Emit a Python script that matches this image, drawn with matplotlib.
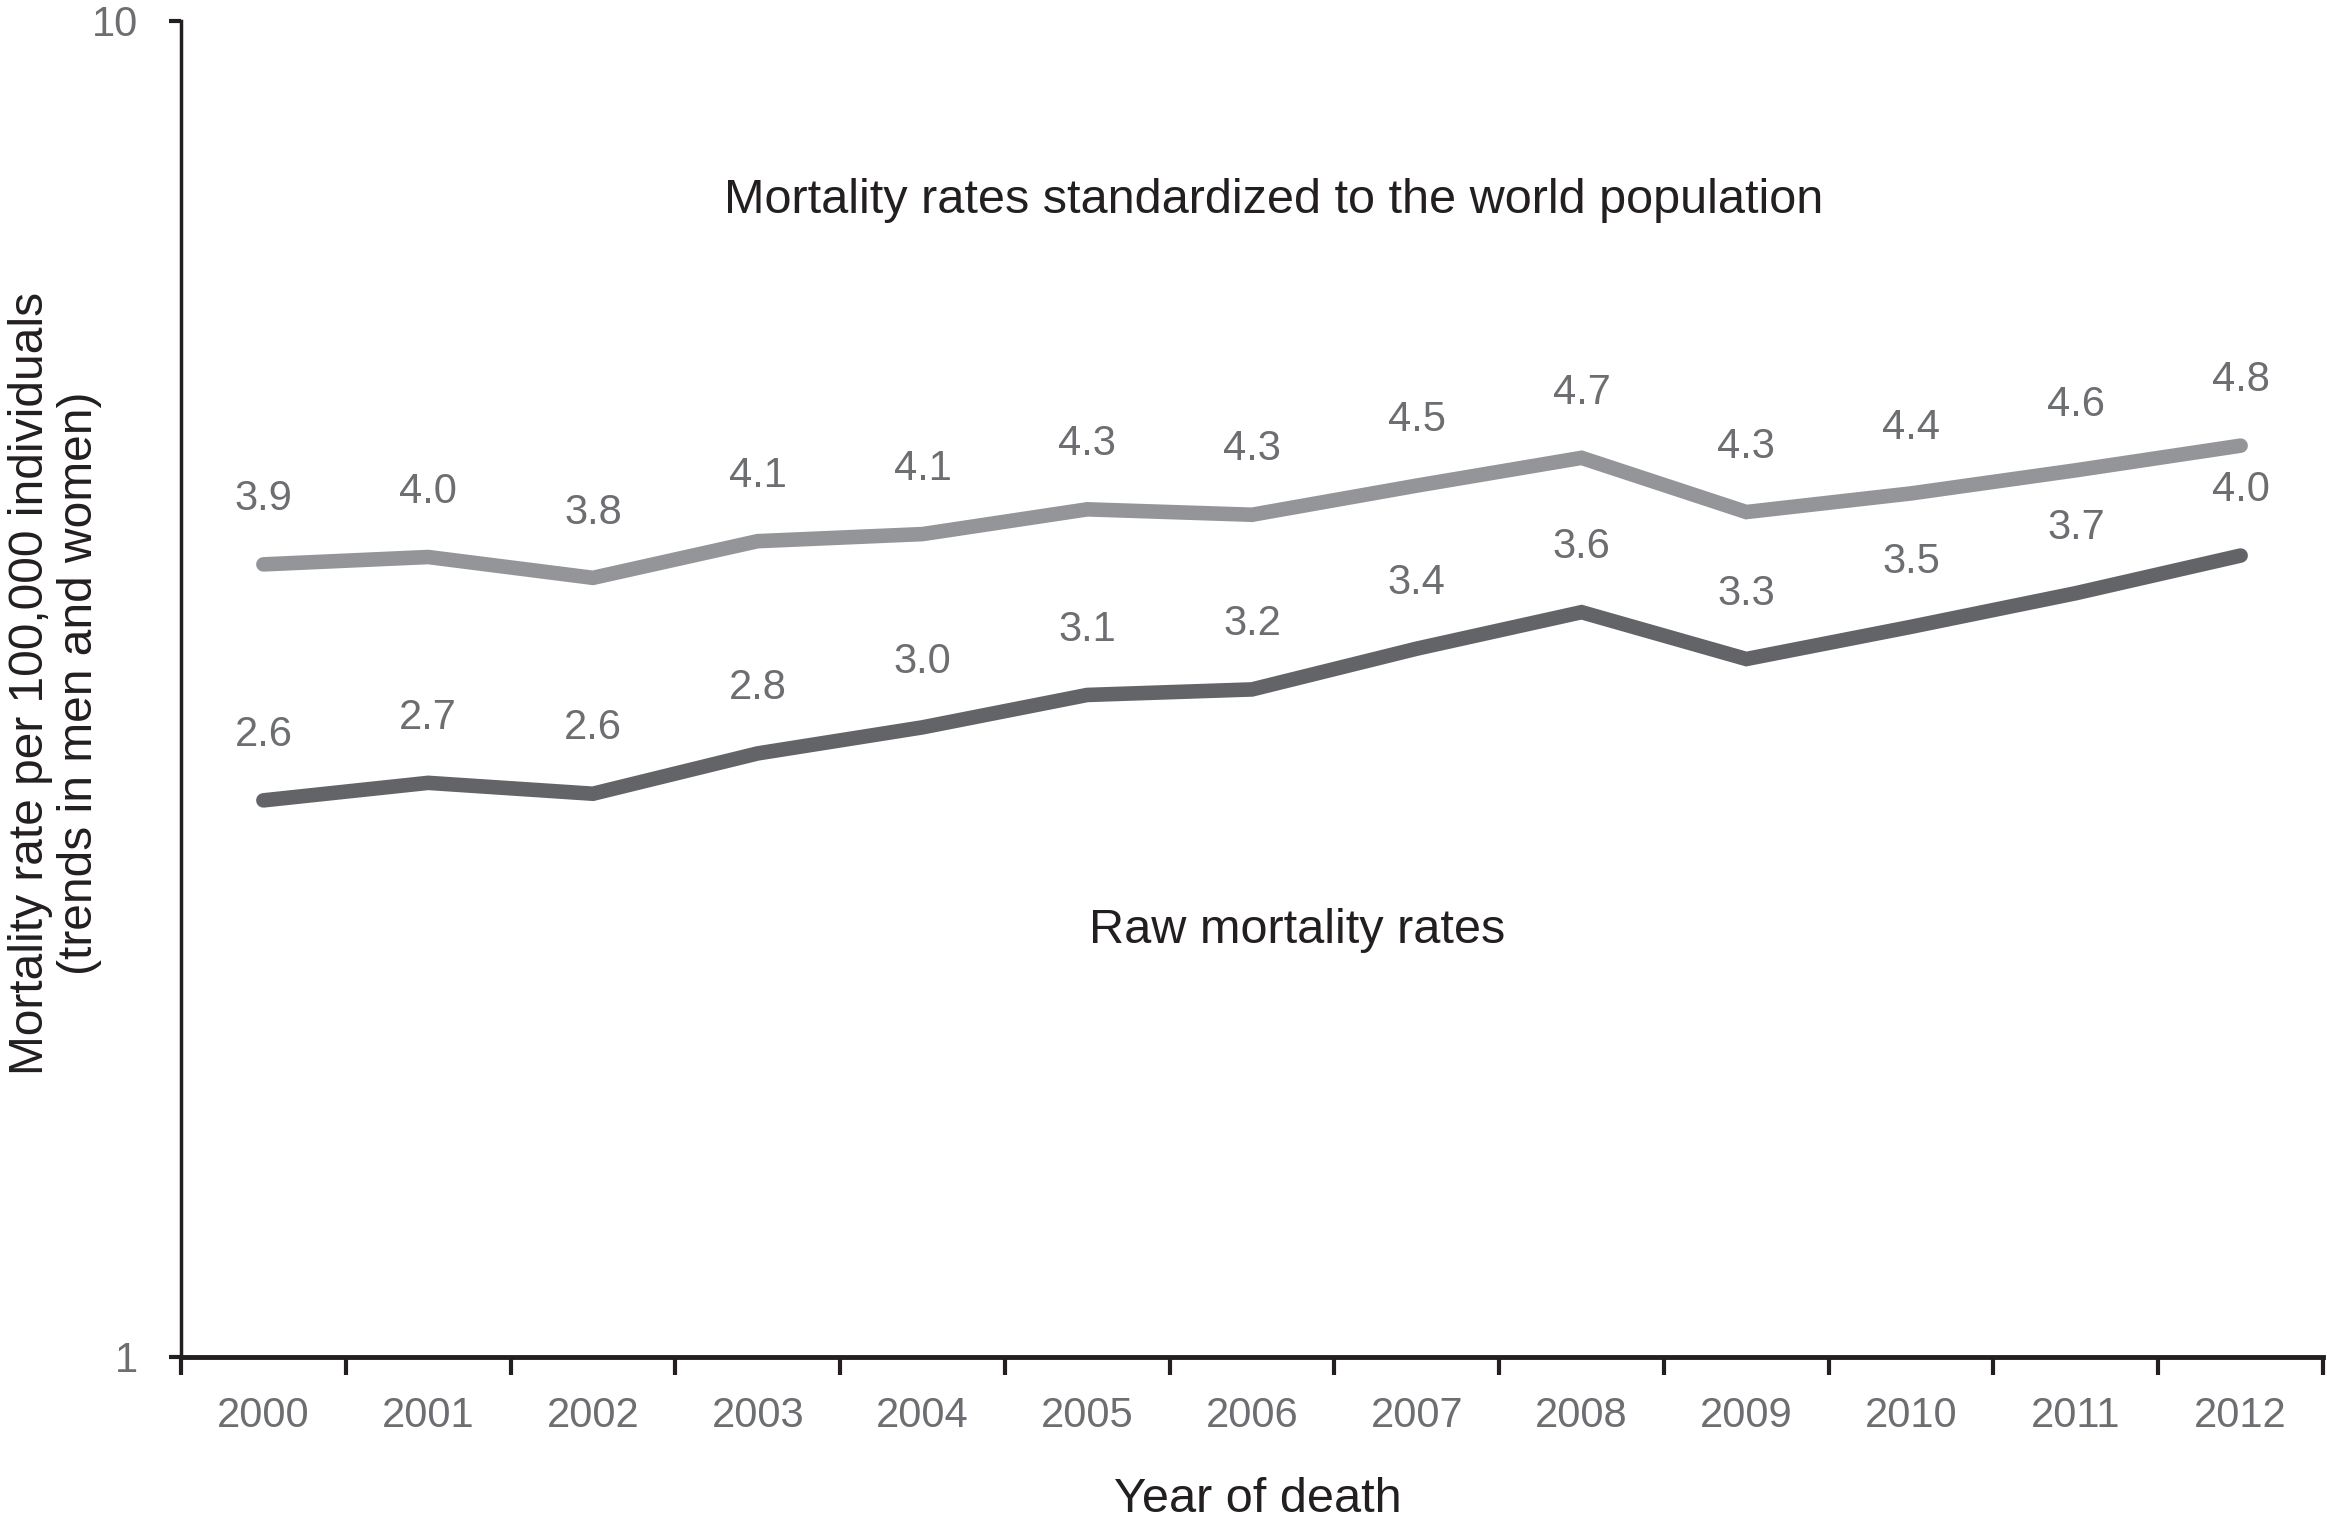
import numpy as np
import matplotlib
matplotlib.use('Agg')
import matplotlib.pyplot as plt
from matplotlib.ticker import FixedLocator, NullLocator, FixedFormatter

years = ['2000', '2001', '2002', '2003', '2004', '2005', '2006',
         '2007', '2008', '2009', '2010', '2011', '2012']
# standardized to the world population
std_rates = [3.92, 3.97, 3.83, 4.08, 4.13, 4.31, 4.27, 4.49, 4.71, 4.29, 4.43, 4.61, 4.81]
# raw rates
raw_rates = [2.61, 2.69, 2.64, 2.83, 2.96, 3.13, 3.16, 3.39, 3.61, 3.33, 3.52, 3.73, 3.98]

plt.rcParams['font.family'] = ['Liberation Sans', 'DejaVu Sans']

light = '#939598'
dark = '#636467'
numc = '#6d6e71'
black = '#231f20'

fig = plt.figure(figsize=(23.27, 15.26), dpi=100)
ax = fig.add_axes([181/2327, 169/1526, 2142/2327, 1336/1526])

x = np.arange(len(years))
ax.plot(x, std_rates, color=light, lw=10.5, solid_capstyle='round', solid_joinstyle='miter')
ax.plot(x, raw_rates, color=dark, lw=10.5, solid_capstyle='round', solid_joinstyle='miter')

for xi, v in zip(x, std_rates):
    ax.annotate('%.1f' % v, (xi, v), xytext=(0, 47), textcoords='offset points',
                ha='center', va='center', fontsize=30, color=numc)
for xi, v in zip(x, raw_rates):
    ax.annotate('%.1f' % v, (xi, v), xytext=(0, 47), textcoords='offset points',
                ha='center', va='center', fontsize=30, color=numc)

ax.set_yscale('log')
ax.set_ylim(1, 10)
ax.set_xlim(-0.5, 12.5)
ax.yaxis.set_major_locator(FixedLocator([1, 10]))
ax.yaxis.set_major_formatter(FixedFormatter(['1', '10']))
ax.yaxis.set_minor_locator(NullLocator())

ax.set_xticks(x)
ax.set_xticklabels(years)
ax.set_xticks(np.arange(-0.5, 13, 1), minor=True)
ax.tick_params(axis='x', which='major', length=0, pad=28, labelsize=30, labelcolor=numc)
ax.tick_params(axis='x', which='minor', length=13, width=3, direction='out', color=black)
ax.tick_params(axis='y', which='major', length=9, width=3, pad=22, labelsize=30,
               labelcolor=numc, color=black)

for s in ['top', 'right']:
    ax.spines[s].set_visible(False)
ax.spines['left'].set_linewidth(2.5)
ax.spines['bottom'].set_linewidth(3.5)
ax.spines['left'].set_color(black)
ax.spines['bottom'].set_color(black)

ax.text(0.51, 0.866, 'Mortality rates standardized to the world population',
        transform=ax.transAxes, ha='center', va='center', fontsize=35, color=black)
ax.text(0.521, 0.319, 'Raw mortality rates',
        transform=ax.transAxes, ha='center', va='center', fontsize=35, color=black)

fig.text(55/2327, 1 - 683/1526, 'Mortality rate per 100,000 individuals\n(trends in men and women)',
         rotation=90, ha='center', va='center', fontsize=34.5, color=black, linespacing=1.1)
fig.text(1258/2327, 1 - 1500/1526, 'Year of death', ha='center', va='center',
         fontsize=35, color=black)

fig.savefig('out.png', dpi=100)
